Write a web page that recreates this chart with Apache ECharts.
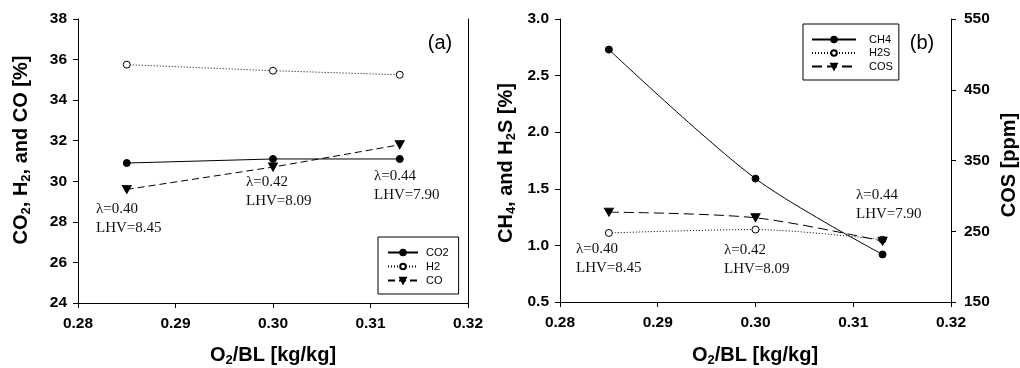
<!DOCTYPE html>
<html>
<head>
<meta charset="utf-8">
<script src="https://cdn.jsdelivr.net/npm/echarts@6/dist/echarts.min.js"></script>
<style>
html,body{margin:0;padding:0;background:#fff;}
#chart{width:1020px;height:368px;}
</style>
</head>
<body>
<div id="chart"></div>
<script>
// ---- data ----
const o2bl = [0.285, 0.300, 0.313];
const co2 = [30.9, 31.1, 31.1];
const h2 = [35.75, 35.45, 35.25];
const co = [29.6, 30.7, 31.8];
const ch4 = [2.73, 1.59, 0.92];
const h2s = [1.11, 1.14, 1.05];
const cos = [277, 269, 236];
const lambdaLabels = ['λ=0.40\nLHV=8.45', 'λ=0.42\nLHV=8.09', 'λ=0.44\nLHV=7.90'];

const pairs = (xs, ys) => xs.map((x, i) => [x, ys[i]]);

const FONT = '"Liberation Sans", Arial, sans-serif';
const SERIF = '"Liberation Serif", "Times New Roman", serif';

const chart = echarts.init(document.getElementById('chart'), null, {renderer: 'canvas'});

function xAxis(gridIndex) {
  return {
    type: 'value', gridIndex, min: 0.28, max: 0.32, interval: 0.01,
    axisLine: {show: true, lineStyle: {color: '#000', width: 1}},
    axisTick: {show: true, inside: false, length: 5, lineStyle: {color: '#000'}},
    axisLabel: {color: '#000', fontFamily: FONT, fontWeight: 'bold', fontSize: 15.5, margin: 13,
      formatter: v => v.toFixed(2)},
    splitLine: {show: false}
  };
}
function yAxis(gridIndex, min, max, interval, pos, dec, showLabels) {
  return {
    type: 'value', gridIndex, min, max, interval, position: pos,
    axisLine: {show: true, onZero: false, lineStyle: {color: '#000', width: 1}},
    axisTick: {show: showLabels, inside: false, length: 5, lineStyle: {color: '#000'}},
    axisLabel: {show: showLabels, color: '#000', fontFamily: FONT, fontWeight: 'bold', fontSize: 15.5,
      margin: pos === 'right' ? 13 : 11, formatter: v => v.toFixed(dec)},
    splitLine: {show: false}
  };
}

function lineSeries(name, data, xi, yi, opts) {
  return {
    name, type: 'line', xAxisIndex: xi, yAxisIndex: yi, data,
    lineStyle: {color: '#000', width: 1, type: opts.dash},
    itemStyle: {color: opts.fill, borderColor: '#000', borderWidth: 1},
    symbol: opts.symbol, symbolSize: opts.size, symbolRotate: opts.rotate || 0,
    smooth: opts.smooth || false,
    z: 3, silent: true, animation: false
  };
}

function annot(x, y, text) {
  return {
    type: 'text', x, y, silent: true,
    style: {text, font: '15px ' + SERIF, fill: '#111', lineHeight: 19,
      textAlign: 'left', textVerticalAlign: 'top', align: 'left', verticalAlign: 'top'}
  };
}
function title(x, y, segs, rot) {
  return {
    type: 'text', x, y, rotation: rot, silent: true,
    style: {
      text: segs, fill: '#000',
      textAlign: 'center', textVerticalAlign: 'middle', align: 'center', verticalAlign: 'middle',
      rich: {
        m: {fontFamily: FONT, fontWeight: 'bold', fontSize: 20, lineHeight: 23, fill: '#000'},
        s: {fontFamily: FONT, fontWeight: 'bold', fontSize: 13, lineHeight: 13, verticalAlign: 'bottom', padding: [9, 0, 0, 0], fill: '#000'}
      }
    }
  };
}

const option = {
  animation: false,
  backgroundColor: '#fff',
  grid: [
    {left: 78, top: 19, width: 390, height: 284},
    {left: 560, top: 19, width: 391, height: 283}
  ],
  xAxis: [xAxis(0), xAxis(1)],
  yAxis: [
    yAxis(0, 24, 38, 2, 'left', 0, true),
    yAxis(0, 24, 38, 2, 'right', 0, false),
    yAxis(1, 0.5, 3.0, 0.5, 'left', 1, true),
    yAxis(1, 150, 550, 100, 'right', 0, true)
  ],
  legend: [
    {
      data: ['CO2', 'H2', 'CO'], orient: 'vertical', left: 378, top: 237,
      padding: [9, 10, 7, 9], itemWidth: 30, itemHeight: 7, itemGap: 1,
      borderColor: '#000', borderWidth: 1, backgroundColor: '#fff',
      textStyle: {fontFamily: FONT, fontSize: 11, lineHeight: 13, color: '#000', padding: [0, 0, 0, 3]},
      selectedMode: false, z: 10
    },
    {
      data: ['CH4', 'H2S', 'COS'], orient: 'vertical', left: 803, top: 24,
      padding: [9, 6, 7, 8], itemWidth: 44, itemHeight: 7, itemGap: 0.5,
      borderColor: '#000', borderWidth: 1, backgroundColor: '#fff',
      textStyle: {fontFamily: FONT, fontSize: 11, lineHeight: 13, color: '#000', padding: [0, 0, 0, 8]},
      selectedMode: false, z: 10
    }
  ],
  series: [
    lineSeries('CO2', pairs(o2bl, co2), 0, 0, {dash: 'solid', fill: '#000', symbol: 'circle', size: 7}),
    lineSeries('H2', pairs(o2bl, h2), 0, 0, {dash: [1, 2], fill: '#fff', symbol: 'circle', size: 7}),
    lineSeries('CO', pairs(o2bl, co), 0, 0, {dash: [7, 4], fill: '#000', symbol: 'triangle', size: [9, 8], rotate: 180}),
    lineSeries('CH4', pairs(o2bl, ch4), 1, 2, {dash: 'solid', fill: '#000', symbol: 'circle', size: 7, smooth: 0.3}),
    lineSeries('H2S', pairs(o2bl, h2s), 1, 2, {dash: [1, 2], fill: '#fff', symbol: 'circle', size: 7, smooth: 0.3}),
    lineSeries('COS', pairs(o2bl, cos), 1, 3, {dash: [10, 5], fill: '#000', symbol: 'triangle', size: [9, 8], rotate: 180, smooth: 0.3})
  ],
  graphic: [
    annot(96, 200, lambdaLabels[0]),
    annot(246, 173, lambdaLabels[1]),
    annot(374, 167, lambdaLabels[2]),
    annot(576, 240, lambdaLabels[0]),
    annot(724, 241, lambdaLabels[1]),
    annot(856, 186, lambdaLabels[2]),
    {type: 'text', x: 440, y: 43, silent: true,
     style: {text: '(a)', font: '20px ' + FONT, fill: '#000', textAlign: 'center', textVerticalAlign: 'middle', align: 'center', verticalAlign: 'middle'}},
    {type: 'text', x: 922, y: 43, silent: true,
     style: {text: '(b)', font: '20px ' + FONT, fill: '#000', textAlign: 'center', textVerticalAlign: 'middle', align: 'center', verticalAlign: 'middle'}},
    title(21, 150, '{m|CO}{s|2}{m|, H}{s|2}{m|, and CO [%]}', Math.PI / 2),
    title(506, 163, '{m|CH}{s|4}{m|, and H}{s|2}{m|S [%]}', Math.PI / 2),
    title(1009, 165, '{m|COS [ppm]}', Math.PI / 2),
    title(273, 355, '{m|O}{s|2}{m|/BL [kg/kg]}', 0),
    title(755, 355, '{m|O}{s|2}{m|/BL [kg/kg]}', 0)
  ]
};
chart.setOption(option);
</script>
</body>
</html>
